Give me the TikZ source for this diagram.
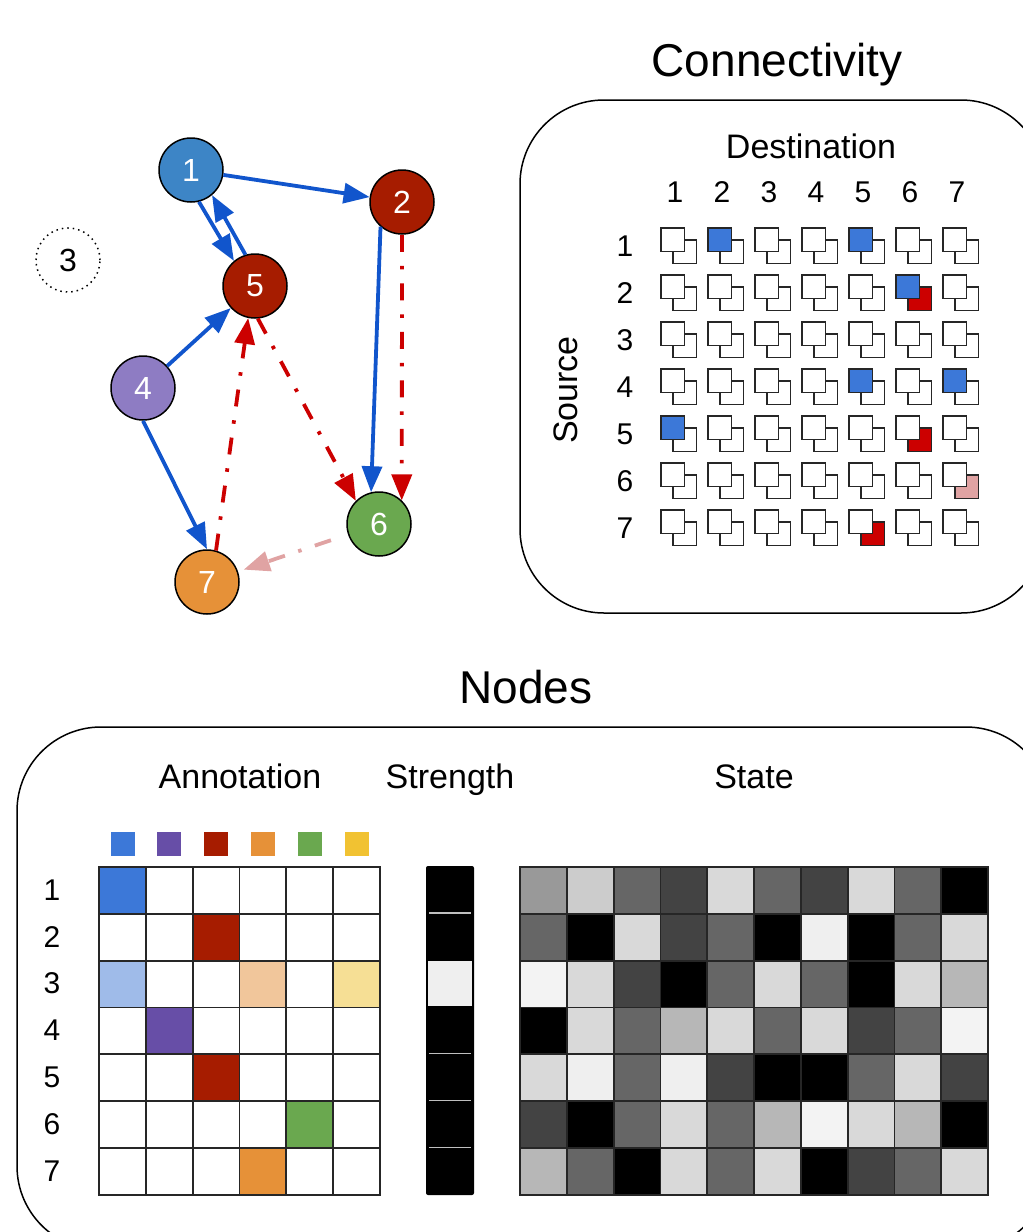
\documentclass[tikz,border=0pt]{standalone}
\usepackage{fontspec}
\setmainfont{Liberation Sans}
\usetikzlibrary{arrows.meta}
\definecolor{vblue}{HTML}{3D85C6}
\definecolor{vred}{HTML}{A61C00}
\definecolor{vpurple}{HTML}{8E7CC3}
\definecolor{vgreen}{HTML}{6AA84F}
\definecolor{vorange}{HTML}{E69138}
\definecolor{eblue}{HTML}{1155CC}
\definecolor{ered}{HTML}{CC0000}
\definecolor{epink}{HTML}{E0A3A3}
\definecolor{cw}{HTML}{FFFFFF}
\definecolor{cb}{HTML}{3C78D8}
\definecolor{cr}{HTML}{CC0000}
\definecolor{cp}{HTML}{E0A3A3}
\definecolor{ablue}{HTML}{3C78D8}
\definecolor{apurple}{HTML}{674EA7}
\definecolor{ared}{HTML}{A61C00}
\definecolor{aorange}{HTML}{E69138}
\definecolor{agreen}{HTML}{6AA84F}
\definecolor{ayellow}{HTML}{F1C232}
\definecolor{lblue}{HTML}{9FBBE9}
\definecolor{lorange}{HTML}{F1C69B}
\definecolor{lyellow}{HTML}{F6DF95}
\definecolor{g0}{HTML}{000000}
\definecolor{g1}{HTML}{434343}
\definecolor{g2}{HTML}{666666}
\definecolor{g3}{HTML}{999999}
\definecolor{g4}{HTML}{B7B7B7}
\definecolor{g5}{HTML}{CCCCCC}
\definecolor{g6}{HTML}{D9D9D9}
\definecolor{g7}{HTML}{EFEFEF}
\definecolor{g8}{HTML}{F3F3F3}

\begin{document}
\begin{tikzpicture}[x=0.5pt,y=-0.5pt,
	vert/.style={circle,draw,line width=0.75pt,minimum size=32pt,inner sep=0pt,text=white,font=\fontsize{16}{16}\selectfont},
	excit/.style={draw=eblue,line width=1.9pt,-{Triangle[length=13pt,width=10pt]}},
	inhib/.style={draw=ered,line width=1.9pt,dash pattern=on 8.5pt off 7pt on 1.75pt off 7pt,-{Triangle[length=13pt,width=10pt]}},
	weak/.style={inhib,draw=epink},
	title/.style={font=\fontsize{23}{23}\selectfont},
	head/.style={font=\fontsize{17}{17}\selectfont,anchor=base},
	num/.style={font=\fontsize{15}{15}\selectfont},
	panel/.style={draw,line width=0.75pt,rounded corners=42pt},
	sq/.style={draw=black!85,line width=0.9pt},
	cell/.style={draw=black!85,line width=0.9pt}]
	\useasboundingbox (0,0) rectangle (1023,1232);

	\node[vert,fill=vblue] (n1) at (191,170) {1};
	\node[vert,fill=vred] (n2) at (402,202) {2};
	\node[vert,draw=black,dotted,text=black] (n3) at (68,260) {3};
	\node[vert,fill=vpurple] (n4) at (143,388) {4};
	\node[vert,fill=vred] (n5) at (255,286) {5};
	\node[vert,fill=vgreen] (n6) at (379,524) {6};
	\node[vert,fill=vorange] (n7) at (207,582) {7};
	\draw[excit] (n1) -- (n2);
	\draw[excit] (n1.-76) -- (n5.130);
	\draw[excit] (n5.107) -- (n1.-50);
	\draw[excit] (n4) -- (n5);
	\draw[excit] (n4.south) -- (n7.north);
	\draw[excit] (n2.-131) -- (n6.104);
	\draw[inhib] (n2.south) -- (n6.46);
	\draw[inhib] (n5.-85) -- (n6.135);
	\draw[inhib] (n7.74) -- (n5.-102);
	\draw[weak,shorten <=9pt,shorten >=3pt] (n6) -- (n7);

	\node[title,anchor=base] (tconn) at (777,76) {Connectivity};
	\draw[panel] (520,100) rectangle (1045,613);
	\node[head] (dest) at (811,158) {Destination};
	\node[head,rotate=90] (src) at (577,390) {Source};
	\foreach \i in {1,...,7} {
		\node[num] (dst\i) at ({675+47*(\i-1)},192) {\i};
		\node[num] (src\i) at (625,{246+47*(\i-1)}) {\i};
	}
	\foreach \row [count=\i] in {
		{w/w,b/w,w/w,w/w,b/w,w/w,w/w},
		{w/w,w/w,w/w,w/w,w/w,b/r,w/w},
		{w/w,w/w,w/w,w/w,w/w,w/w,w/w},
		{w/w,w/w,w/w,w/w,b/w,w/w,b/w},
		{b/w,w/w,w/w,w/w,w/w,w/r,w/w},
		{w/w,w/w,w/w,w/w,w/w,w/w,w/p},
		{w/w,w/w,w/w,w/w,w/r,w/w,w/w}} {
		\foreach \f/\b [count=\j] in \row {
			\draw[sq,fill=c\b] ({673+47*(\j-1)},{240+47*(\i-1)}) rectangle +(23.5,23.5);
			\draw[sq,fill=c\f] ({661+47*(\j-1)},{228+47*(\i-1)}) rectangle +(23.5,23.5);
		}
	}

	\node[title] (tnodes) at (526,687) {Nodes};
	\draw[panel] (17,727) rectangle (1050,1250);
	\node[head] (annot) at (240,788) {Annotation};
	\node[head] (stren) at (450,788) {Strength};
	\node[head] (state) at (754,788) {State};
	\foreach \c [count=\k] in {ablue,apurple,ared,aorange,agreen,ayellow}
		\fill[\c] ({110.5+46.8*(\k-1)},832) rectangle +(24,24);
	\foreach \i in {1,...,7}
		\node[num] (ann\i) at (52,{890+46.8*(\i-1)}) {\i};
	\foreach \row [count=\i] in {
		{ablue,white,white,white,white,white},
		{white,white,ared,white,white,white},
		{lblue,white,white,lorange,white,lyellow},
		{white,apurple,white,white,white,white},
		{white,white,ared,white,white,white},
		{white,white,white,white,agreen,white},
		{white,white,white,aorange,white,white}} {
		\foreach \c [count=\j] in \row
			\draw[cell,fill=\c] ({99+46.8*(\j-1)},{867+46.8*(\i-1)}) rectangle +(46.8,46.8);
	}

	\fill[black,rounded corners=1pt] (426,866) rectangle (474,1195);
	\foreach \k in {1,4,5,6}
		\draw[black!25,line width=0.75pt] (429,{866+46.9*\k}) -- (471,{866+46.9*\k});
	\draw[fill=g7,draw=black,line width=0.6pt] (427.5,960.5) rectangle (472.5,1007);

	\foreach \row [count=\i] in {
		{3,5,2,1,6,2,1,6,2,0},
		{2,0,6,1,2,0,7,0,2,6},
		{8,6,1,0,2,6,2,0,6,4},
		{0,6,2,4,6,2,6,1,2,8},
		{6,7,2,7,1,0,0,2,6,1},
		{1,0,2,6,2,4,8,6,4,0},
		{4,2,0,6,2,6,0,1,2,6}} {
		\foreach \v [count=\j] in \row
			\draw[cell,fill=g\v] ({520+46.8*(\j-1)},{867+46.8*(\i-1)}) rectangle +(46.8,46.8);
	}
\end{tikzpicture}
\end{document}
